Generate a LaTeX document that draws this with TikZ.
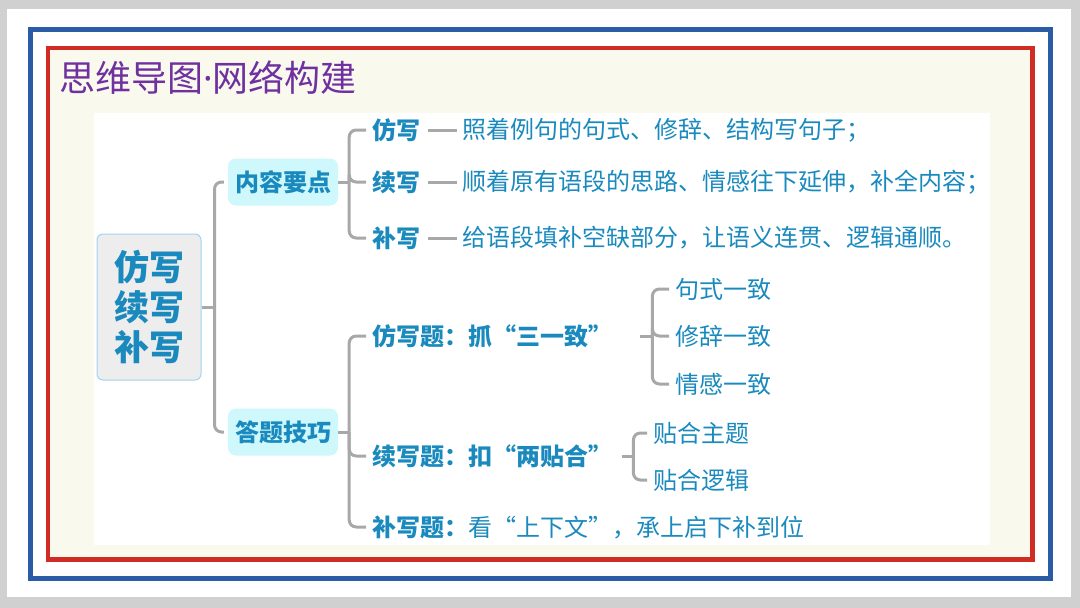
\documentclass[tikz,border=0pt]{standalone}
\usepackage{fontspec}
\setmainfont{Noto Sans CJK SC}
\newfontfamily\latinfont{Noto Sans}
\usetikzlibrary{positioning}
\definecolor{framegray}{RGB}{208,208,208}
\definecolor{frameblue}{RGB}{42,92,166}
\definecolor{framered}{RGB}{208,44,36}
\definecolor{cream}{RGB}{249,249,238}
\definecolor{titlepurple}{RGB}{112,48,160}
\definecolor{mapblue}{RGB}{26,138,190}
\definecolor{linkgray}{RGB}{168,168,168}
\definecolor{keycyan}{RGB}{206,248,252}
\definecolor{rootfill}{RGB}{237,237,237}
\definecolor{rootline}{RGB}{160,212,240}
\begin{document}
\begin{tikzpicture}[x=1pt, y=-1pt, node distance = 38pt,
    root/.style={rectangle, rounded corners=6pt, fill=rootfill, draw=rootline, line width=1pt, minimum width=104pt, minimum height=146pt, align=center, text=mapblue, font=\fontsize{35}{40}\selectfont\bfseries},
    key/.style={rectangle, rounded corners=8pt, fill=keycyan, minimum width=110pt, minimum height=47pt, text=mapblue, font=\fontsize{24}{28}\selectfont\bfseries},
    branch/.style={anchor=west, inner sep=2pt, text=mapblue, font=\fontsize{24}{28}\selectfont\bfseries},
    desc/.style={inner sep=2pt, text=mapblue, font=\fontsize{24}{28}\selectfont},
    leaf/.style={anchor=west, inner sep=2pt, text=mapblue, font=\fontsize{24}{28}\selectfont},
    link/.style={draw=linkgray, line width=3pt},
    elbow/.style={link, rounded corners=7pt, shorten >=4pt}]
        \useasboundingbox (0,0) rectangle (1080,608);
        \fill[framegray] (0,0) rectangle (1080,608);
        \fill[white] (7,9) rectangle (1071,597);
        \draw[frameblue, line width=5pt] (30.5,29.5) rectangle (1050.5,578.5);
        \fill[cream] (48,48) rectangle (1032.5,559.5);
        \draw[framered, line width=4.5pt] (48,48) rectangle (1032.5,559.5);
        \fill[white] (94,113) rectangle (990,545);
        \node[anchor=west, inner sep=0pt, text=titlepurple, font=\fontsize{36}{42}\selectfont] (0) at (59,78) {思维导图{\latinfont ·}网络构建};
        \node[root] (1) at (149,307) {仿写\\续写\\补写};
        \node[key] (2) at (283,182) {内容要点};
        \node[key] (3) at (283,432) {答题技巧};
        \node[branch] (4) at (370,130) {仿写};
        \node[branch] (5) at (370,182) {续写};
        \node[branch] (6) at (370,238) {补写};
        \node[desc] (7) [right=of 4] {照着例句的句式、修辞、结构写句子；};
        \node[desc] (8) [right=of 5] {顺着原有语段的思路、情感往下延伸，补全内容；};
        \node[desc] (9) [right=of 6] {给语段填补空缺部分，让语义连贯、逻辑通顺。};
        \node[branch] (10) at (370,336) {仿写题：抓“三一致”};
        \node[branch] (11) at (370,456) {续写题：扣“两贴合”};
        \node[branch] (12) at (370,527) {补写题：{\mdseries 看“上下文”，承上启下补到位}};
        \node[leaf] (13) at (673,289) {句式一致};
        \node[leaf] (14) at (673,336) {修辞一致};
        \node[leaf] (15) at (673,384) {情感一致};
        \node[leaf] (16) at (651,433) {贴合主题};
        \node[leaf] (17) at (651,480) {贴合逻辑};
        \coordinate (t1) at ([xshift=13pt]1.east);
        \coordinate (t2) at ([xshift=11pt]2.east);
        \coordinate (t3) at ([xshift=11pt]3.east);
        \coordinate (t4) at ([xshift=38pt]10.east);
        \coordinate (t5) at ([xshift=19pt]11.east);
        \draw[link] (1) -- (t1);
        \draw[elbow] (t1) |- (2);
        \draw[elbow] (t1) |- (3);
        \draw[link] (2) -- (t2);
        \draw[elbow] (t2) |- (4);
        \draw[elbow] (t2) |- (5);
        \draw[elbow] (t2) |- (6);
        \draw[link, shorten <=6pt, shorten >=3pt] (4) -- (7);
        \draw[link, shorten <=6pt, shorten >=3pt] (5) -- (8);
        \draw[link, shorten <=6pt, shorten >=3pt] (6) -- (9);
        \draw[link] (3) -- (t3);
        \draw[elbow] (t3) |- (10);
        \draw[elbow] (t3) |- (11);
        \draw[elbow] (t3) |- (12);
        \draw[link, shorten <=26pt] (10.east) -- (t4);
        \draw[elbow] (t4) |- (13);
        \draw[elbow] (t4) |- (14);
        \draw[elbow] (t4) |- (15);
        \draw[link, shorten <=8pt] (11.east) -- (t5);
        \draw[elbow] (t5) |- (16);
        \draw[elbow] (t5) |- (17);
    \end{tikzpicture}
\end{document}
